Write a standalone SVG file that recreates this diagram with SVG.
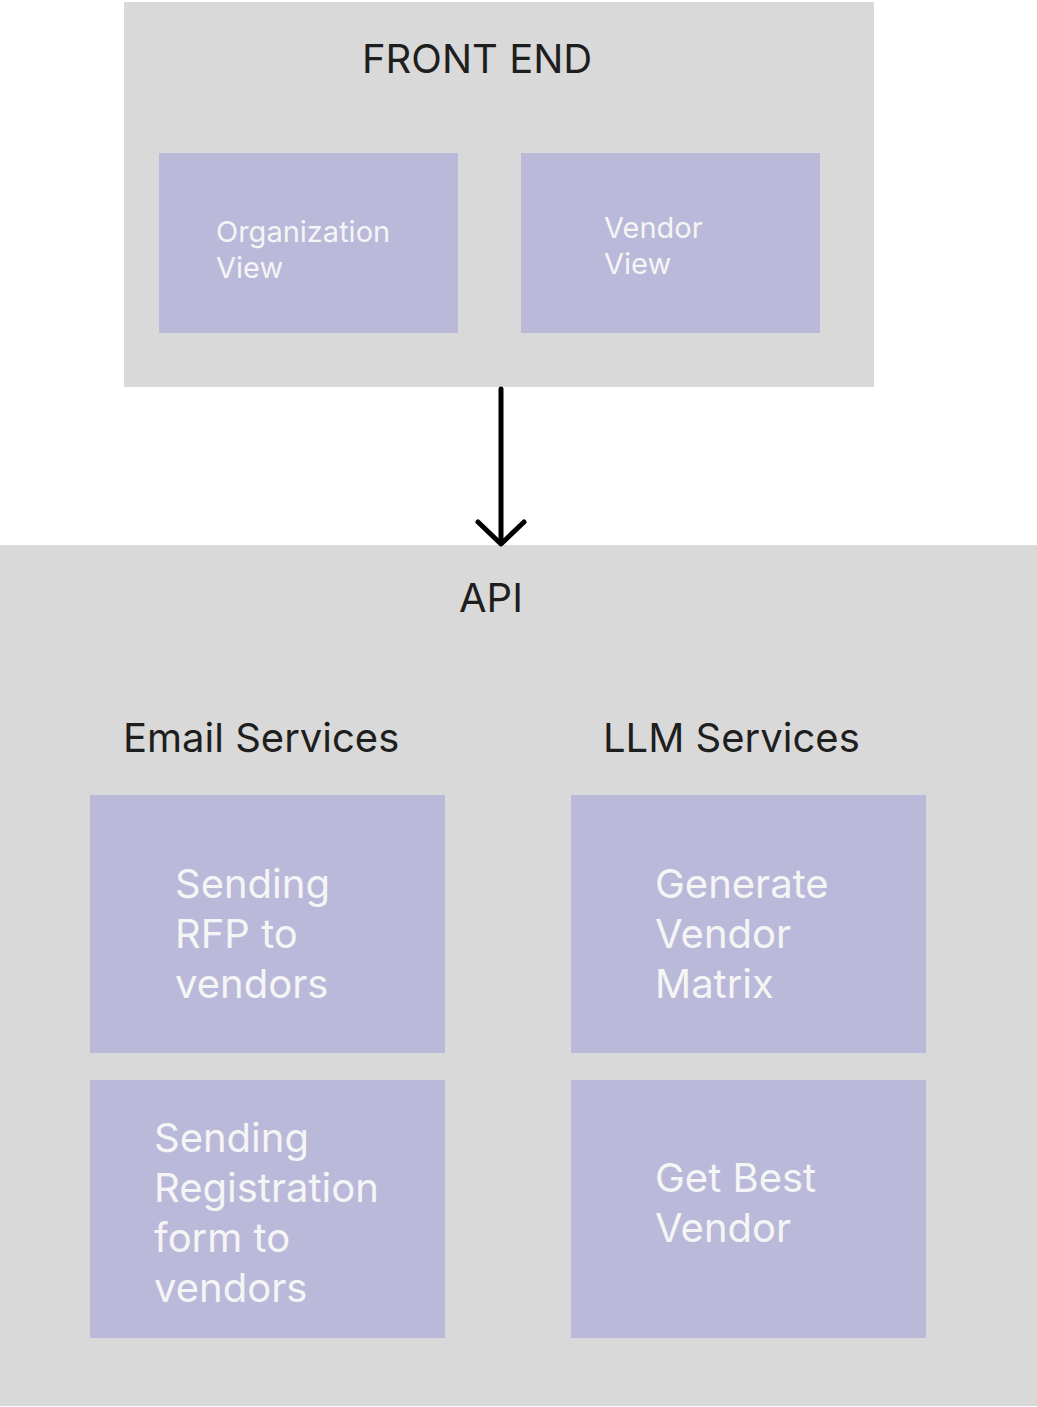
<svg xmlns="http://www.w3.org/2000/svg" width="1037" height="1407" viewBox="0 0 1037 1407">
<defs>
<style>
.container{fill:#d9d9d9;}
.box{fill:#bbb9da;}
.title{font-family:Inter,"Liberation Sans",sans-serif;fill:#1e1e1e;font-size:40px;}
.head{font-family:Inter,"Liberation Sans",sans-serif;fill:#1e1e1e;font-size:40px;}
.lbl{font-family:Inter,"Liberation Sans",sans-serif;fill:#f5f5f5;font-size:40px;}
.small{font-family:Inter,"Liberation Sans",sans-serif;fill:#f5f5f5;font-size:29px;}
.conn{stroke:#000;stroke-width:5;fill:none;stroke-linecap:round;stroke-linejoin:round;}
</style>
</defs>
<rect width="1037" height="1407" fill="#ffffff"/>
<g id="frontend">
<rect class="container" x="124" y="2" width="750" height="385"/>
<text class="title" x="362" y="73">FRONT END</text>
</g>
<g id="org-view">
<rect class="box" x="159" y="153" width="299" height="180"/>
<text class="small" x="216" y="242">Organization</text>
<text class="small" x="216" y="278">View</text>
</g>
<g id="vendor-view">
<rect class="box" x="521" y="153" width="299" height="180"/>
<text class="small" x="604" y="238">Vendor</text>
<text class="small" x="604" y="274">View</text>
</g>
<g id="api">
<rect class="container" x="0" y="545" width="1037" height="861"/>
<text class="title" x="459" y="612">API</text>
<text class="head" x="123" y="752">Email Services</text>
<text class="head" x="603" y="752">LLM Services</text>
</g>
<g id="send-rfp">
<rect class="box" x="90" y="795" width="355" height="258"/>
<text class="lbl" x="175" y="898">Sending</text>
<text class="lbl" x="175" y="948">RFP to</text>
<text class="lbl" x="175" y="998">vendors</text>
</g>
<g id="send-reg">
<rect class="box" x="90" y="1080" width="355" height="258"/>
<text class="lbl" x="154" y="1152">Sending</text>
<text class="lbl" x="154" y="1202">Registration</text>
<text class="lbl" x="154" y="1252">form to</text>
<text class="lbl" x="154" y="1302">vendors</text>
</g>
<g id="gen-matrix">
<rect class="box" x="571" y="795" width="355" height="258"/>
<text class="lbl" x="655" y="898">Generate</text>
<text class="lbl" x="655" y="948">Vendor</text>
<text class="lbl" x="655" y="998">Matrix</text>
</g>
<g id="best-vendor">
<rect class="box" x="571" y="1080" width="355" height="258"/>
<text class="lbl" x="655" y="1192">Get Best</text>
<text class="lbl" x="655" y="1242">Vendor</text>
</g>
<g id="connectors">
<line class="conn" x1="501" y1="389" x2="501" y2="543"/>
<polyline class="conn" points="478,522 501,544 524,522"/>
</g>
</svg>
